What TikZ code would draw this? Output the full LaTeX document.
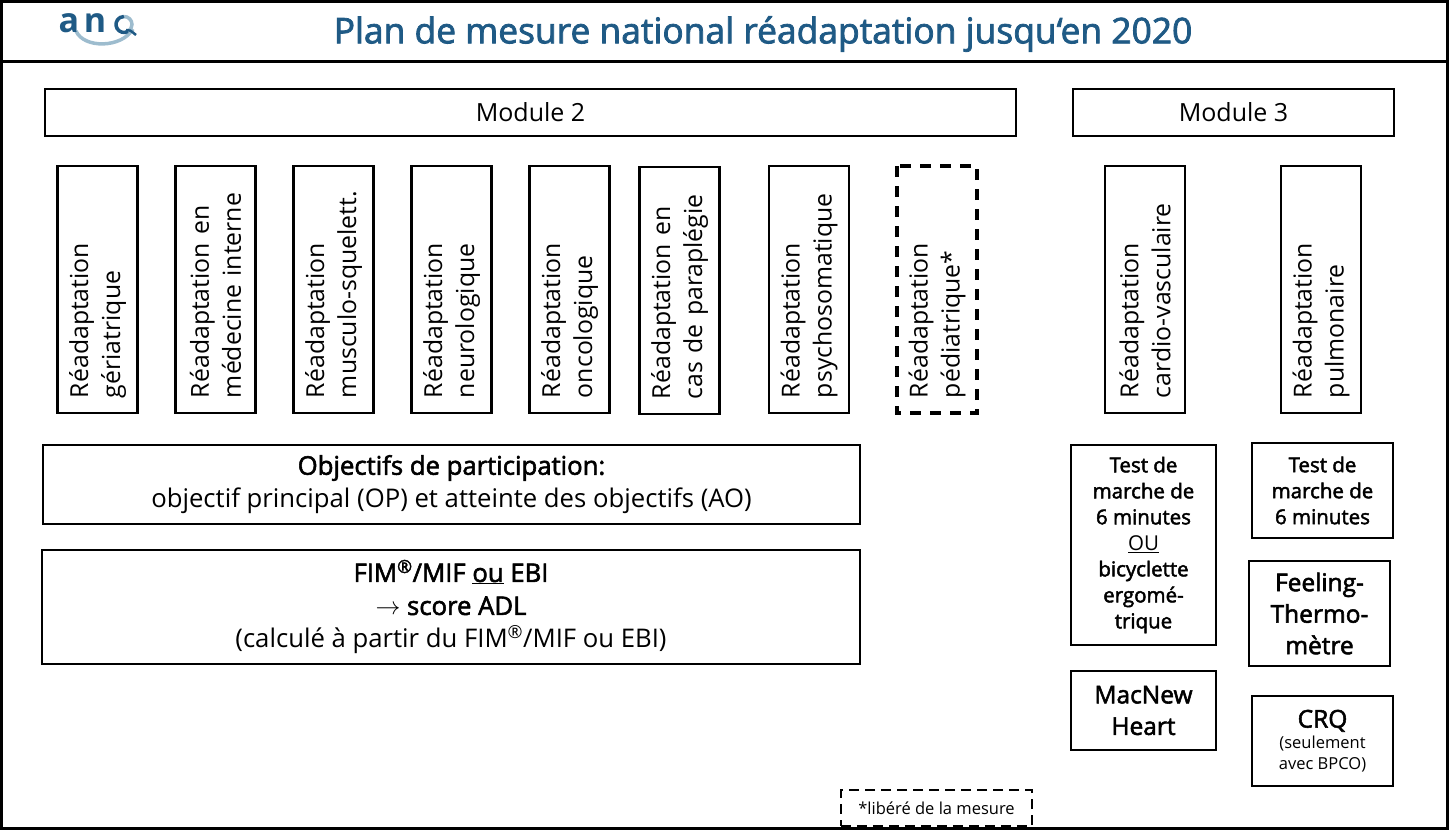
\documentclass[tikz,border=0pt]{standalone}
\usepackage{fontspec}
\setmainfont{Open Sans}
\newfontfamily\semifont[FakeBold=2.2]{Open Sans}
\usetikzlibrary{positioning}
\definecolor{anqblue}{HTML}{1F5A85}
\definecolor{anqlight}{HTML}{9DBCCE}
\newcommand{\semi}[1]{{\semifont #1}}
\begin{document}
\begin{tikzpicture}[
          x=1pt, y=-1pt,
          box/.style={draw, line width=2.8pt, inner sep=0pt, align=center},
          vbox/.style={box, rotate=90, minimum width=247pt, minimum height=80pt, text width=217pt, align=left, font=\fontsize{24.8}{32}\selectfont},
          dashbox/.style={line width=3.2pt, dash pattern=on 11pt off 9pt},
          modbox/.style={box, minimum height=47pt, font=\fontsize{25}{27}\selectfont},
          wide/.style={box, minimum width=817pt, font=\fontsize{25.7}{33}\selectfont},
          test/.style={box, minimum width=145pt, font=\fontsize{20.5}{26}\selectfont},
          big/.style={font=\fontsize{24.5}{31.5}\selectfont\semifont},
          logotext/.style={text=anqblue, font=\fontsize{34}{34}\selectfont\bfseries, inner sep=0pt}
        ]
          \useasboundingbox (0,0) rectangle (1449,830);
          % frame and title
          \node[draw, line width=3pt, minimum width=1446pt, minimum height=827pt, inner sep=0pt] (frame) at (724.5,415) {};
          \coordinate (headl) at (0,61);
          \coordinate (headr) at (1449,61);
          \draw[line width=3pt] (headl) -- (headr);
          \node[text=anqblue, font=\fontsize{35.4}{40}\selectfont\semifont, inner sep=0pt] (title) at (763,34) {Plan de mesure national réadaptation jusqu‘en 2020};

          % logo
          \draw[anqlight, line width=3.5pt] (76,31) .. controls (84,49) and (122,48) .. (133,29);
          \draw[anqlight, line width=3.5pt] (124,16.5) arc (-90:60:8);
          \draw[anqblue, line width=3.5pt] (128,31.4) arc (60:270:8);
          \draw[anqblue, line width=2.5pt] (126,30) .. controls (130,30) .. (136,35);
          \node[logotext] (loga) at (69,23) {a};
          \node[logotext] (logn) at (95,23) {n};

          % modules
          \node[modbox, minimum width=971pt] (mod2) at (530.5,112.5) {Module 2};
          \node[modbox, minimum width=321pt] (mod3) at (1233.5,112.5) {Module 3};

          % settings
          \node[vbox] (ger) at (97.5,289.5) {Réadaptation\\gériatrique};
          \node[vbox] (med) at (215.5,289.5) {Réadaptation en\\médecine interne};
          \node[vbox] (mus) at (333.5,289.5) {Réadaptation\\musculo-squelett.};
          \node[vbox] (neu) at (451.5,289.5) {Réadaptation\\neurologique};
          \node[vbox] (onc) at (569.5,289.5) {Réadaptation\\oncologique};
          \node[vbox] (par) at (679.5,290.5) {Réadaptation en\\cas de paraplégie};
          \node[vbox] (psy) at (809,289.5) {Réadaptation\\psychosomatique};
          \node[vbox, dashbox] (ped) at (937,289.5) {Réadaptation\\pédiatrique*};
          \node[vbox] (car) at (1145,289.5) {Réadaptation\\cardio-vasculaire};
          \node[vbox] (pul) at (1321,289.5) {Réadaptation\\pulmonaire};

          % instruments module 2
          \node[wide, minimum height=79pt] (obj) at (451.5,484.5) {\semi{Objectifs de participation:}\\objectif principal (OP) et atteinte des objectifs (AO)};
          \node[wide, minimum width=818pt, minimum height=114pt] (fim) at (451,607) {\semi{FIM\textsuperscript{®}/MIF \underline{ou} EBI}\\$\rightarrow$ \semi{score ADL}\\(calculé à partir du FIM\textsuperscript{®}/MIF ou EBI)};

          % instruments module 3
          \node[test, minimum height=200pt] (marcha) at (1143.5,545) {\semi{Test de}\\\semi{marche de}\\\semi{6 minutes}\\\underline{OU}\\\semi{bicyclette}\\\semi{ergomé-}\\\semi{trique}};
          \node[test, big, minimum height=79pt] (mac) at (1143.5,710.5) {MacNew\\Heart};
          \node[test, minimum width=141pt, minimum height=95pt] (marchb) at (1322.5,490.5) {\semi{Test de}\\\semi{marche de}\\\semi{6 minutes}};
          \node[test, big, minimum width=141pt, minimum height=105pt] (feel) at (1319.5,613.5) {Feeling-\\Thermo-\\mètre};
          \node[test, minimum width=141pt, minimum height=90pt, font=\fontsize{16.5}{21}\selectfont] (crq) at (1322.5,741) {{\fontsize{24.5}{30}\selectfont\semifont CRQ}\\(seulement\\avec BPCO)};

          % footnote
          \node[box, dash pattern=on 10pt off 6pt, minimum width=191pt, minimum height=36pt, font=\fontsize{16.5}{20}\selectfont] (note) at (936.5,808) {*libéré de la mesure};
\end{tikzpicture}
\end{document}
